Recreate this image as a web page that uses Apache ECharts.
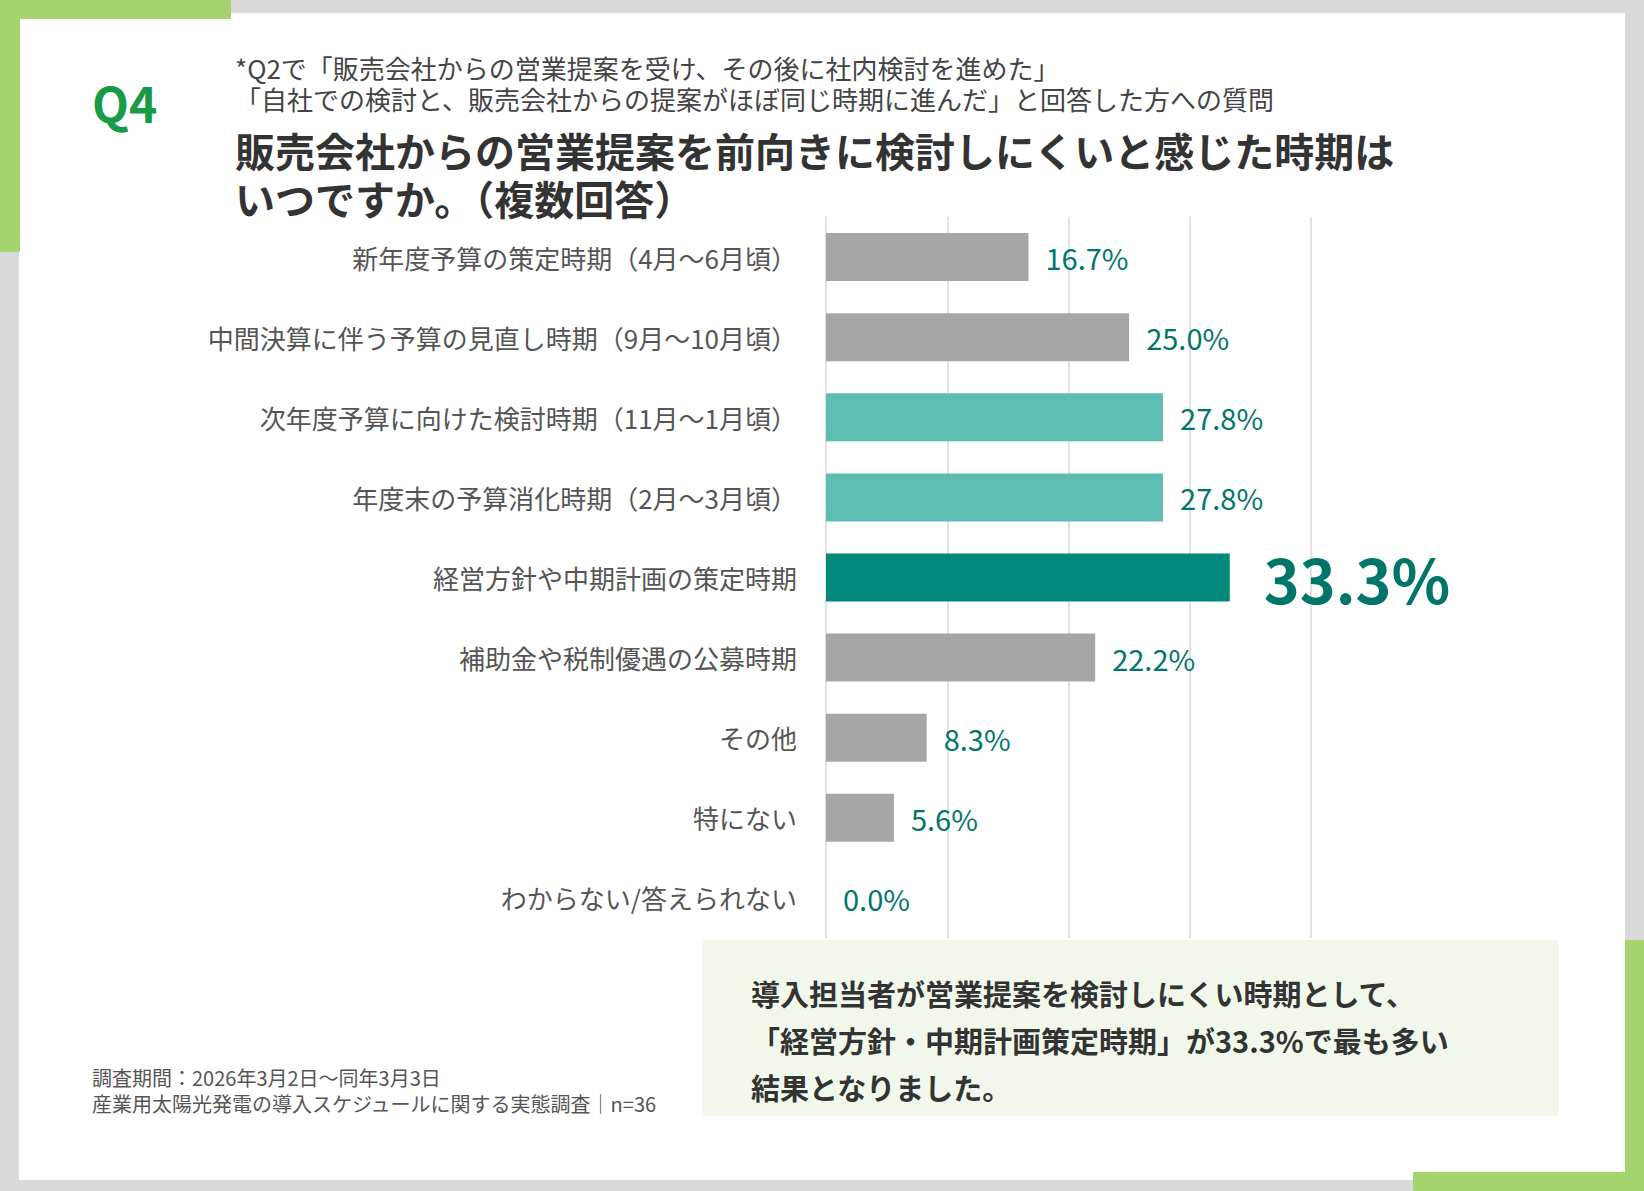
<!DOCTYPE html>
<html lang="ja">
<head>
<meta charset="UTF-8">
<script src="https://cdn.jsdelivr.net/npm/echarts@6/dist/echarts.min.js"></script>
<style>
  html,body{margin:0;padding:0;overflow:hidden;background:#d9d9d9;}
  #main{width:1644px;height:1191px;}
</style>
</head>
<body>
<div id="main"></div>
<script>
// データ
const categories = [
  '新年度予算の策定時期（4月～6月頃）',
  '中間決算に伴う予算の見直し時期（9月～10月頃）',
  '次年度予算に向けた検討時期（11月～1月頃）',
  '年度末の予算消化時期（2月～3月頃）',
  '経営方針や中期計画の策定時期',
  '補助金や税制優遇の公募時期',
  'その他',
  '特にない',
  'わからない/答えられない'
];
const values = [16.7, 25.0, 27.8, 27.8, 33.3, 22.2, 8.3, 5.6, 0.0];
const barColors = ['#a6a6a6','#a6a6a6','#5dbdb3','#5dbdb3','#00897b','#a6a6a6','#a6a6a6','#a6a6a6','#a6a6a6'];

// layout was measured on a 1568px wide copy
const S = 1644 / 1568;
const s = v => Math.round(v * S);
const font = '"Noto Sans CJK JP","Noto Sans",sans-serif';
const chart = echarts.init(document.getElementById('main'), null, {renderer:'svg'});

chart.setOption({
  backgroundColor:'#d9d9d9',
  animation:false,
  textStyle:{fontFamily:font},
  graphic:[
    {type:'rect',shape:{x:s(18),y:s(12),width:s(1532),height:s(1113)},style:{fill:'#fff'},z:-10},
    {type:'rect',shape:{x:0,y:0,width:s(220),height:s(18)},style:{fill:'#a5d46f'},z:-9},
    {type:'rect',shape:{x:0,y:0,width:s(19),height:s(240)},style:{fill:'#a5d46f'},z:-9},
    {type:'rect',shape:{x:s(1348),y:s(1118),width:s(220),height:s(20)},style:{fill:'#a5d46f'},z:-9},
    {type:'rect',shape:{x:s(1550),y:s(897),width:s(20),height:s(240)},style:{fill:'#a5d46f'},z:-9},
    {type:'text',left:s(88),top:s(74),style:{text:'Q4',fill:'#179b46',font:'bold '+s(46)+'px '+font}},
    {type:'text',left:s(224),top:s(50),style:{text:'*Q2で「販売会社からの営業提案を受け、その後に社内検討を進めた」\n「自社での検討と、販売会社からの提案がほぼ同じ時期に進んだ」と回答した方への質問',fill:'#444',font:s(25)+'px '+font,lineHeight:s(30)}},
    {type:'text',left:s(224),top:s(120),style:{text:'販売会社からの営業提案を前向きに検討しにくいと感じた時期は\nいつですか。（複数回答）',fill:'#333',font:'bold '+s(38)+'px '+font,lineHeight:s(46)}},
    {type:'rect',shape:{x:s(670),y:s(897),width:s(817),height:s(168)},style:{fill:'#f2f7ec'}},
    {type:'text',left:s(716),top:s(924),style:{text:'導入担当者が営業提案を検討しにくい時期として、\n「経営方針・中期計画策定時期」が33.3%で最も多い\n結果となりました。',fill:'#333',font:'bold '+s(28)+'px '+font,lineHeight:s(45)}},
    {type:'text',left:s(88),top:s(1015),style:{text:'調査期間：2026年3月2日～同年3月3日\n産業用太陽光発電の導入スケジュールに関する実態調査｜n=36',fill:'#555',font:s(19)+'px '+font,lineHeight:s(25)}}
  ],
  grid:{left:s(788),top:s(207),width:s(463),height:s(688)},
  xAxis:{type:'value',min:0,max:40,interval:10,
    axisLabel:{show:false},axisLine:{show:false},axisTick:{show:false},
    splitLine:{lineStyle:{color:'#d9d9d9',width:1.5}}},
  yAxis:{type:'category',inverse:true,data:categories,
    axisLine:{show:false},axisTick:{show:false},
    axisLabel:{color:'#555',fontSize:s(25),margin:s(28),fontFamily:font}},
  series:[{
    type:'bar',barWidth:s(46),
    data:values.map((v,i)=>({value:v,itemStyle:{color:barColors[i]},
      label:i===4?{fontSize:s(58),fontWeight:'bold',distance:s(32)}:{}})),
    label:{show:true,position:'right',distance:s(16),color:'#00766a',fontSize:s(28),fontFamily:font,
      formatter:p=>p.value.toFixed(1)+'%'}
  }]
});
</script>
</body>
</html>
